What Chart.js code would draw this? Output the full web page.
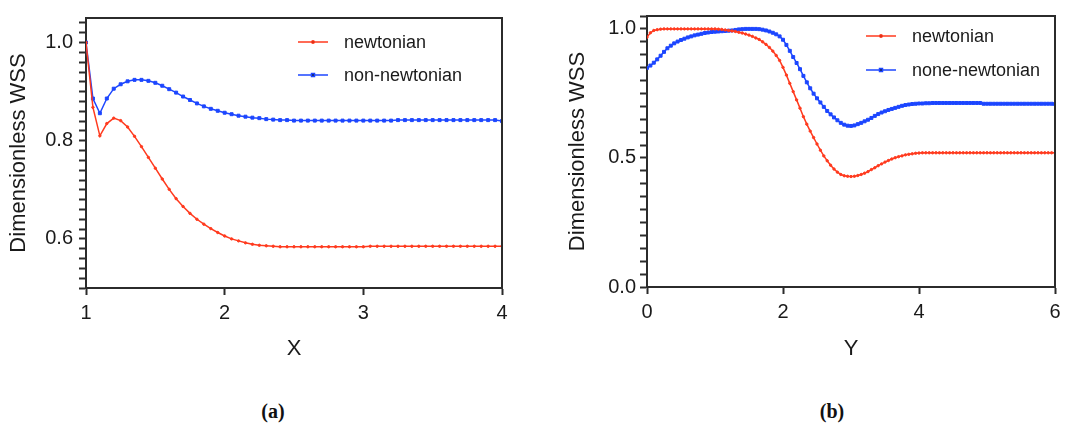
<!DOCTYPE html>
<html>
<head>
<meta charset="utf-8">
<script src="https://cdn.jsdelivr.net/npm/chart.js@4/dist/chart.umd.min.js"></script>
<style>
  body { margin: 0; background: #fff; width: 1069px; height: 426px; position: relative; overflow: hidden; }
  .box { position: absolute; top: 0; }
  .cap { position: absolute; font: bold 20px "Liberation Serif", "Times New Roman", serif; color: #111; transform: translate(-50%, -50%); }
</style>
</head>
<body>
<div class="box" style="left:0;width:530px;height:380px"><canvas id="chartA" width="530" height="380"></canvas></div>
<div class="box" style="left:550px;width:519px;height:380px"><canvas id="chartB" width="519" height="380"></canvas></div>
<div class="cap" style="left:273px;top:411px">(a)</div>
<div class="cap" style="left:832px;top:411px">(b)</div>
<script>
// (a) wall shear stress along X
let xA = [1.00, 1.05, 1.10, 1.15, 1.20, 1.25, 1.30, 1.35, 1.40, 1.45,
          1.50, 1.55, 1.60, 1.65, 1.70, 1.75, 1.80, 1.85, 1.90, 1.95,
          2.00, 2.05, 2.10, 2.15, 2.20, 2.25, 2.30, 2.35, 2.40, 2.45,
          2.50, 2.55, 2.60, 2.65, 2.70, 2.75, 2.80, 2.85, 2.90, 2.95,
          3.00, 3.05, 3.10, 3.15, 3.20, 3.25, 3.30, 3.35, 3.40, 3.45,
          3.50, 3.55, 3.60, 3.65, 3.70, 3.75, 3.80, 3.85, 3.90, 3.95, 4.00]
let newtonianA = [1.000, 0.868, 0.810, 0.835, 0.846, 0.841, 0.828, 0.809, 0.788, 0.766,
                  0.744, 0.722, 0.701, 0.682, 0.666, 0.652, 0.640, 0.630, 0.621, 0.613,
                  0.606, 0.600, 0.596, 0.592, 0.589, 0.587, 0.586, 0.585, 0.584, 0.584,
                  0.584, 0.584, 0.584, 0.584, 0.584, 0.584, 0.584, 0.584, 0.584, 0.584,
                  0.584, 0.585, 0.585, 0.585, 0.585, 0.585, 0.585, 0.585, 0.585, 0.585,
                  0.585, 0.585, 0.585, 0.585, 0.585, 0.585, 0.585, 0.585, 0.585, 0.585, 0.585]
let nonNewtonianA = [1.000, 0.886, 0.856, 0.886, 0.906, 0.915, 0.921, 0.924, 0.924, 0.922,
                     0.918, 0.912, 0.905, 0.898, 0.890, 0.883, 0.876, 0.870, 0.865, 0.861,
                     0.857, 0.854, 0.851, 0.849, 0.847, 0.846, 0.844, 0.843, 0.842, 0.842,
                     0.841, 0.841, 0.841, 0.841, 0.841, 0.841, 0.841, 0.841, 0.841, 0.841,
                     0.841, 0.841, 0.841, 0.841, 0.841, 0.842, 0.842, 0.842, 0.842, 0.842,
                     0.842, 0.842, 0.842, 0.842, 0.842, 0.842, 0.842, 0.842, 0.842, 0.842, 0.840]

// (b) wall shear stress along Y
let xB = [0.00, 0.05, 0.10, 0.15, 0.20, 0.25, 0.30, 0.35, 0.40, 0.45,
          0.50, 0.55, 0.60, 0.65, 0.70, 0.75, 0.80, 0.85, 0.90, 0.95,
          1.00, 1.05, 1.10, 1.15, 1.20, 1.25, 1.30, 1.35, 1.40, 1.45,
          1.50, 1.55, 1.60, 1.65, 1.70, 1.75, 1.80, 1.85, 1.90, 1.95,
          2.00, 2.05, 2.10, 2.15, 2.20, 2.25, 2.30, 2.35, 2.40, 2.45,
          2.50, 2.55, 2.60, 2.65, 2.70, 2.75, 2.80, 2.85, 2.90, 2.95,
          3.00, 3.05, 3.10, 3.15, 3.20, 3.25, 3.30, 3.35, 3.40, 3.45,
          3.50, 3.55, 3.60, 3.65, 3.70, 3.75, 3.80, 3.85, 3.90, 3.95,
          4.00, 4.05, 4.10, 4.15, 4.20, 4.25, 4.30, 4.35, 4.40, 4.45,
          4.50, 4.55, 4.60, 4.65, 4.70, 4.75, 4.80, 4.85, 4.90, 4.95,
          5.00, 5.05, 5.10, 5.15, 5.20, 5.25, 5.30, 5.35, 5.40, 5.45,
          5.50, 5.55, 5.60, 5.65, 5.70, 5.75, 5.80, 5.85, 5.90, 5.95, 6.00]
let newtonianB = [0.968, 0.985, 0.994, 0.997, 0.999, 1.000, 1.000, 1.000, 1.000, 1.000,
                  1.000, 1.000, 1.000, 1.000, 1.000, 1.000, 1.000, 1.000, 1.000, 1.000,
                  1.000, 0.999, 0.998, 0.996, 0.994, 0.992, 0.990, 0.987, 0.984, 0.980,
                  0.976, 0.971, 0.965, 0.959, 0.950, 0.940, 0.928, 0.914, 0.897, 0.878,
                  0.851, 0.821, 0.789, 0.757, 0.725, 0.693, 0.660, 0.631, 0.604, 0.579,
                  0.554, 0.530, 0.508, 0.489, 0.472, 0.457, 0.445, 0.436, 0.431, 0.429,
                  0.428, 0.429, 0.432, 0.436, 0.441, 0.447, 0.455, 0.462, 0.470, 0.477,
                  0.484, 0.490, 0.496, 0.501, 0.505, 0.508, 0.512, 0.514, 0.516, 0.518,
                  0.519, 0.520, 0.520, 0.520, 0.520, 0.520, 0.520, 0.520, 0.520, 0.520,
                  0.520, 0.520, 0.520, 0.520, 0.520, 0.520, 0.520, 0.520, 0.520, 0.520,
                  0.520, 0.520, 0.520, 0.520, 0.520, 0.520, 0.520, 0.520, 0.520, 0.520,
                  0.520, 0.520, 0.520, 0.520, 0.520, 0.520, 0.520, 0.520, 0.520, 0.520, 0.520]
let noneNewtonianB = [0.849, 0.858, 0.869, 0.882, 0.896, 0.911, 0.925, 0.935, 0.944, 0.951,
                      0.957, 0.962, 0.967, 0.971, 0.975, 0.978, 0.981, 0.984, 0.986, 0.988,
                      0.989, 0.990, 0.991, 0.992, 0.993, 0.994, 0.996, 0.998, 0.999, 1.000,
                      1.000, 1.000, 1.000, 0.999, 0.997, 0.994, 0.990, 0.985, 0.979, 0.971,
                      0.958, 0.938, 0.915, 0.891, 0.868, 0.844, 0.818, 0.793, 0.770, 0.749,
                      0.731, 0.715, 0.698, 0.682, 0.669, 0.657, 0.646, 0.636, 0.629, 0.625,
                      0.624, 0.626, 0.631, 0.636, 0.642, 0.648, 0.655, 0.663, 0.670, 0.676,
                      0.681, 0.686, 0.690, 0.694, 0.698, 0.702, 0.705, 0.707, 0.709, 0.710,
                      0.711, 0.711, 0.712, 0.712, 0.713, 0.713, 0.713, 0.713, 0.713, 0.713,
                      0.713, 0.713, 0.713, 0.713, 0.713, 0.713, 0.713, 0.713, 0.713, 0.710,
                      0.710, 0.710, 0.710, 0.710, 0.710, 0.710, 0.710, 0.710, 0.710, 0.710,
                      0.710, 0.710, 0.710, 0.710, 0.710, 0.710, 0.710, 0.710, 0.710, 0.710, 0.709]

let ticksA = [1, 2, 3, 4]
let ticksB = [0, 2, 4, 6]

const RED = '#ff3a1e'
const BLUE = '#1c46ff'
const AXIS = '#2b2b2b'
const FONT = '"Liberation Sans", Arial, sans-serif'

// legend drawn inside the plot + top/right frame lines
const frameLegend = {
    id: 'frameLegend',
    afterDraw(chart, args, opts) {
        let ctx = chart.ctx
        let a = chart.chartArea
        ctx.save()
        ctx.strokeStyle = AXIS
        ctx.lineWidth = 2
        ctx.beginPath()
        ctx.moveTo(a.left, a.top)
        ctx.lineTo(a.right, a.top)
        ctx.lineTo(a.right, a.bottom)
        ctx.stroke()

        ctx.font = '18px ' + FONT
        ctx.textBaseline = 'middle'
        chart.data.datasets.forEach((ds, i) => {
            let x = a.left + opts.x
            let y = a.top + opts.y + i * opts.gap
            ctx.strokeStyle = ds.borderColor
            ctx.lineWidth = 1.5
            ctx.beginPath()
            ctx.moveTo(x, y)
            ctx.lineTo(x + 30, y)
            ctx.stroke()
            Chart.helpers.drawPoint(ctx, {
                pointStyle: ds.pointStyle, radius: ds.pointRadius, rotation: 0, borderWidth: 1
            }, x + 15, y)
            ctx.fillStyle = '#1a1a1a'
            ctx.fillText(ds.label, x + 46, y + 1)
        })
        ctx.restore()
    }
}

function makeDataset(label, xs, ys, color, style, radius) {
    return {
        label: label,
        data: xs.map((x, i) => ({ x: x, y: ys[i] })),
        borderColor: color,
        backgroundColor: color,
        pointBorderColor: color,
        pointBackgroundColor: color,
        borderWidth: 1.5,
        pointStyle: style,
        pointRadius: radius,
        pointBorderWidth: 1,
        tension: 0,
        fill: false
    }
}

function makeOptions(cfg) {
    return {
        responsive: false,
        animation: false,
        devicePixelRatio: 1,
        layout: { padding: { top: cfg.padTop, right: cfg.padRight, left: 0, bottom: 0 } },
        plugins: {
            legend: { display: false },
            tooltip: { enabled: false },
            frameLegend: cfg.legend
        },
        scales: {
            x: {
                type: 'linear',
                min: cfg.xMin,
                max: cfg.xMax,
                afterBuildTicks: s => { s.ticks = cfg.xTicks.map(v => ({ value: v })) },
                afterFit: s => { s.height = cfg.xHeight },
                ticks: {
                    autoSkip: false,
                    maxRotation: 0,
                    padding: 6,
                    color: '#1a1a1a',
                    font: { family: FONT, size: 20 },
                    callback: v => String(v)
                },
                grid: { drawOnChartArea: false, drawTicks: true, tickLength: 7, tickColor: AXIS, tickWidth: 2 },
                border: { display: true, color: AXIS, width: 2 },
                title: {
                    display: true, text: cfg.xTitle, color: '#1a1a1a',
                    font: { family: FONT, size: 22 }, padding: { top: 0, bottom: 18 }
                }
            },
            y: {
                type: 'linear',
                min: cfg.yMin,
                max: cfg.yMax,
                afterFit: s => { s.width = cfg.yWidth },
                ticks: {
                    stepSize: cfg.yStep,
                    includeBounds: false,
                    autoSkip: false,
                    padding: cfg.yPad,
                    color: '#1a1a1a',
                    font: { family: FONT, size: 20 },
                    callback: v => (Math.round(v * 100) % cfg.yMajor === 0 ? v.toFixed(1) : '')
                },
                grid: { drawOnChartArea: false, drawTicks: true, tickLength: 7, tickColor: AXIS, tickWidth: 2 },
                border: { display: true, color: AXIS, width: 2 },
                title: {
                    display: true, text: 'Dimensionless WSS', color: '#1a1a1a',
                    font: { family: FONT, size: 22 }, padding: { top: cfg.yTitlePad, bottom: 0 }
                }
            }
        }
    }
}

new Chart(document.getElementById('chartA').getContext('2d'), {
    type: 'line',
    data: {
        datasets: [
            makeDataset('newtonian', xA, newtonianA, RED, 'circle', 1.2),
            makeDataset('non-newtonian', xA, nonNewtonianA, BLUE, 'rect', 2.1)
        ]
    },
    options: makeOptions({
        padTop: 11, padRight: 28,
        xMin: 1, xMax: 4, xTicks: ticksA, xHeight: 92, xTitle: 'X',
        yMin: 0.5, yMax: 1.05, yStep: 0.02, yMajor: 20, yWidth: 86, yPad: 6, yTitlePad: 6,
        legend: { x: 212, y: 24, gap: 33 }
    }),
    plugins: [frameLegend]
})

new Chart(document.getElementById('chartB').getContext('2d'), {
    type: 'line',
    data: {
        datasets: [
            makeDataset('newtonian', xB, newtonianB, RED, 'circle', 1.2),
            makeDataset('none-newtonian', xB, noneNewtonianB, BLUE, 'rect', 2.1)
        ]
    },
    options: makeOptions({
        padTop: 13, padRight: 14,
        xMin: 0, xMax: 6, xTicks: ticksB, xHeight: 93, xTitle: 'Y',
        yMin: 0, yMax: 1.05, yStep: 0.05, yMajor: 50, yWidth: 97, yPad: 4, yTitlePad: 15,
        legend: { x: 219, y: 20, gap: 34 }
    }),
    plugins: [frameLegend]
})
</script>
</body>
</html>
